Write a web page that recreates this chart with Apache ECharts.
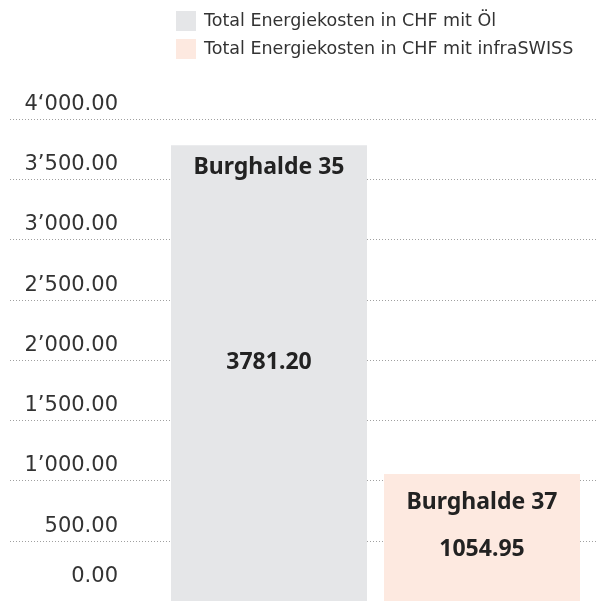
<!DOCTYPE html>
<html>
<head>
<meta charset="utf-8">
<script src="https://cdn.jsdelivr.net/npm/echarts@6/dist/echarts.min.js"></script>
<style>
  html, body { margin: 0; padding: 0; background: #fff; }
  #chart { width: 598px; height: 601px; }
</style>
</head>
<body>
<div id="chart"></div>
<script>
// data
const seriesNames = ['Total Energiekosten in CHF mit Öl', 'Total Energiekosten in CHF mit infraSWISS']
const buildings = ['Burghalde 35', 'Burghalde 37']
const costOel = [3781.20, '-']
const costInfra = ['-', 1054.95]
const valueLabels = ['3781.20', '1054.95']
const yTickLabels = ['0.00', '500.00', '1’000.00', '1’500.00', '2’000.00', '2’500.00', '3’000.00', '3’500.00', '4‘000.00']

const labelFont = 'Noto Sans, sans-serif'
const axisFont = 'DejaVu Sans, sans-serif'

function barLabel(i, dist, valueLine) {
  return {
    show: true,
    position: 'insideTop',
    distance: dist,
    formatter: () => '{n|' + buildings[i] + '}\n{v|' + valueLabels[i] + '}',
    rich: {
      n: { fontFamily: labelFont, fontWeight: 'bold', fontSize: 23, color: '#222', lineHeight: 26 },
      v: { fontFamily: labelFont, fontWeight: 'bold', fontSize: 23, color: '#222', lineHeight: valueLine }
    }
  }
}

const options = {
  animation: false,
  legend: {
    orient: 'vertical',
    left: 171,
    top: 6,
    itemWidth: 20,
    itemHeight: 20,
    itemGap: 8,
    icon: 'rect',
    data: seriesNames,
    textStyle: {
      fontFamily: axisFont,
      fontSize: 17.5,
      color: '#333',
      padding: [0, 0, 0, 3]
    }
  },
  grid: [
    { left: 10, right: 0, top: 119, height: 483 },
    { left: 162.5, width: 426, top: 119, height: 483 }
  ],
  xAxis: [
    { type: 'value', gridIndex: 0, show: false },
    { type: 'category', gridIndex: 1, data: buildings, show: false }
  ],
  yAxis: [
    {
      type: 'value',
      gridIndex: 0,
      min: 0,
      max: 4000,
      interval: 500,
      axisLine: { show: false },
      axisTick: { show: false },
      axisLabel: {
        inside: true,
        margin: 108,
        align: 'right',
        verticalAlign: 'bottom',
        padding: [0, 0, 4, 0],
        fontFamily: axisFont,
        fontSize: 21,
        color: '#333',
        formatter: (v) => {
          const t = yTickLabels[Math.round(v / 500)]
          return v === 0 ? '{z|' + t + '}' : t
        },
        rich: {
          z: { fontFamily: axisFont, fontSize: 21, color: '#333', padding: [0, 0, 10, 0] }
        }
      },
      splitLine: {
        lineStyle: { color: '#a0a0a0', type: [1, 2], width: 1 }
      }
    },
    { type: 'value', gridIndex: 1, min: 0, max: 4000, show: false }
  ],
  series: [
    {
      name: seriesNames[0],
      type: 'bar',
      xAxisIndex: 1,
      yAxisIndex: 1,
      stack: 'kosten',
      barWidth: 196,
      data: costOel,
      itemStyle: { color: '#e5e6e8' },
      label: barLabel(0, 9.5, 364)
    },
    {
      name: seriesNames[1],
      type: 'bar',
      xAxisIndex: 1,
      yAxisIndex: 1,
      stack: 'kosten',
      barWidth: 196,
      data: costInfra,
      itemStyle: { color: '#fde9e0' },
      label: barLabel(1, 15.5, 68)
    }
  ]
}

const echart = echarts.init(document.getElementById('chart'))
echart.setOption(options)
</script>
</body>
</html>
